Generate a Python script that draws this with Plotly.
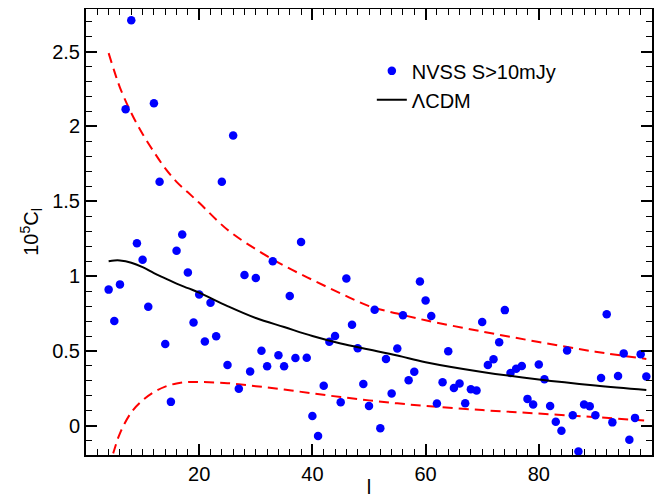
import plotly.graph_objects as go

# multipoles
ell = list(range(4, 100))
# measured 10^5 C_l (NVSS S>10mJy)
cl_nvss = [
    0.91, 0.70, 0.945, 2.115, 2.71, 1.22, 1.11, 0.795, 2.155, 1.63,
    0.547, 0.16, 1.17, 1.278, 1.025, 0.69, 0.878, 0.564, 0.823, 0.598,
    1.63, 0.407, 1.94, 0.247, 1.008, 0.363, 0.987, 0.502, 0.398, 1.10,
    0.471, 0.398, 0.867, 0.453, 1.228, 0.455, 0.065, -0.068, 0.268, 0.562,
    0.60, 0.158, 0.985, 0.676, 0.519, 0.279, 0.133, 0.776, -0.016, 0.446,
    0.216, 0.516, 0.738, 0.304, 0.362, 0.964, 0.837, 0.733, 0.149, 0.291,
    0.498, 0.253, 0.283, 0.151, 0.245, 0.236, 0.693, 0.407, 0.445, 0.558,
    0.773, 0.353, 0.382, 0.40, 0.18, 0.143, 0.409, 0.311, 0.133, 0.027,
    -0.033, 0.503, 0.071, -0.171, 0.143, 0.131, 0.071, 0.32, 0.745, 0.023,
    0.333, 0.484, -0.093, 0.053, 0.478, 0.329,
]

# model curves sampled at these multipoles
ell_model = [4, 5, 6, 8, 10, 12, 14, 16, 18, 20, 25, 30, 35, 40, 45, 50, 55, 60, 70, 80, 90, 99]
cl_lcdm = [1.10, 1.105, 1.105, 1.09, 1.06, 1.02, 0.985, 0.95, 0.92, 0.89, 0.80,
           0.72, 0.66, 0.60, 0.55, 0.51, 0.47, 0.425, 0.36, 0.31, 0.27, 0.24]
cl_upper = [2.49, 2.37, 2.26, 2.09, 1.95, 1.83, 1.72, 1.63, 1.56, 1.49, 1.31,
            1.18, 1.07, 0.975, 0.885, 0.80, 0.75, 0.705, 0.63, 0.56, 0.495, 0.447]
cl_lower = [-0.29, -0.16, -0.05, 0.09, 0.17, 0.225, 0.262, 0.283, 0.292, 0.293, 0.285,
            0.265, 0.242, 0.217, 0.192, 0.17, 0.15, 0.133, 0.105, 0.082, 0.058, 0.034]

y_ticks = [0, 0.5, 1, 1.5, 2, 2.5]
y_ticktext = ["0", "0.5", "1", "1.5", "2", "2.5"]
x_ticks = [20, 40, 60, 80]

FONT = "Liberation Sans, Arial, Helvetica, sans-serif"
FS = 20

fig = go.Figure()
fig.add_trace(go.Scatter(x=ell_model, y=cl_upper, mode="lines", line=dict(color="red", width=2, dash="10px,6px", shape="spline"),
                         showlegend=False, hoverinfo="skip"))
fig.add_trace(go.Scatter(x=ell_model, y=cl_lower, mode="lines", line=dict(color="red", width=2, dash="10px,6px", shape="spline"),
                         showlegend=False, hoverinfo="skip"))
fig.add_trace(go.Scatter(x=ell, y=cl_nvss, mode="markers", name="NVSS S>10mJy",
                         marker=dict(color="blue", size=8.5, line=dict(width=0)), legendgroup="a"))
fig.add_trace(go.Scatter(x=ell_model, y=cl_lcdm, mode="lines", name="\u039bCDM",
                         line=dict(color="black", width=2, shape="spline"), legendgroup="b"))

axis_common = dict(
    showline=True, linecolor="black", linewidth=2, mirror="allticks",
    ticks="inside", tickcolor="black", tickwidth=1.5, ticklen=11,
    showgrid=False, zeroline=False,
    tickfont=dict(family=FONT, size=FS, color="black"),
)

fig.update_xaxes(range=[0, 100], tickvals=x_ticks,
                 minor=dict(dtick=2, ticks="inside", ticklen=6, tickcolor="black", tickwidth=1.2, showgrid=False),
                 title=dict(text="l", font=dict(family=FONT, size=FS, color="black"), standoff=4),
                 **axis_common)
fig.update_yaxes(range=[-0.195, 2.785], tickvals=y_ticks, ticktext=y_ticktext,
                 minor=dict(dtick=0.1, ticks="inside", ticklen=6, tickcolor="black", tickwidth=1.2, showgrid=False),
                 title=dict(text="10<sup>5</sup>C<sub>l</sub>", font=dict(family=FONT, size=FS, color="black"), standoff=8),
                 **axis_common)

fig.update_layout(
    width=656, height=490,
    margin=dict(l=78, r=12, t=1, b=43, autoexpand=False),
    plot_bgcolor="white", paper_bgcolor="white",
    font=dict(family=FONT, size=FS, color="black"),
    legend=dict(x=0.505, y=0.905, xanchor="left", yanchor="top", bgcolor="rgba(0,0,0,0)",
                font=dict(family=FONT, size=FS, color="black"), tracegroupgap=0, traceorder="grouped"),
)

fig.write_html("out.html")
